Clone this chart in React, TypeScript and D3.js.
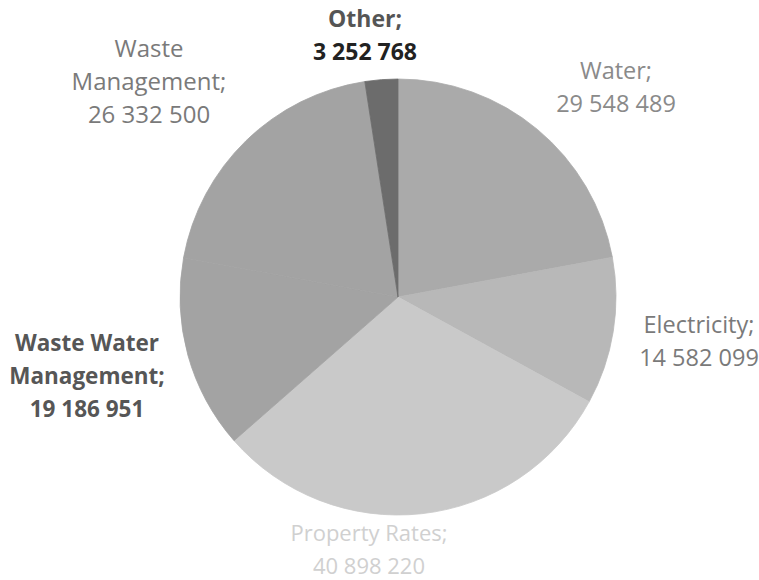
import React from "react";
import * as d3 from "d3";

const categories = ["Water", "Electricity", "Property Rates", "Waste Water Management", "Waste Management", "Other"];
const values = [29548489, 14582099, 40898220, 19186951, 26332500, 3252768];
const sliceColors = ["#aaaaaa", "#b8b8b8", "#c9c9c9", "#a3a3a3", "#a3a3a3", "#6c6c6c"];

// label layout (text center x, first baseline y), line breaks, styles
const labelLines = [
  ["Water;"],
  ["Electricity;"],
  ["Property Rates;"],
  ["Waste Water", "Management;"],
  ["Waste", "Management;"],
  ["Other;"],
];
const labelAnchor = [
  [616, 79],
  [699, 333],
  [369, 541],
  [87, 351],
  [149, 57],
  [365, 27],
];
const labelColor = ["#8a8a8a", "#7a7a7a", "#d0d0d0", "#565656", "#7a7a7a", "#555555"];
const valueColor = ["#8a8a8a", "#7a7a7a", "#d0d0d0", "#565656", "#7a7a7a", "#222222"];
const labelBold = [false, false, false, true, false, true];
const labelSize = [23.5, 23.5, 22, 22.5, 24, 23];

const W = 759;
const H = 580;
const cx = 398;
const cy = 297;
const R = 218;
const lineH = 33;

const fmt = d3.formatLocale({ decimal: ",", thousands: " ", grouping: [3], currency: ["", ""] }).format(",");

export default function App() {
  const pie = d3.pie<number>().sort(null).value((d) => d)(values);
  const arc = d3.arc<d3.PieArcDatum<number>>().innerRadius(0).outerRadius(R);
  return (
    <svg width={W} height={H} style={{ position: "absolute", left: 0, top: 0, background: "#fff" }}
      fontFamily="'Open Sans', sans-serif">
      <g transform={`translate(${cx},${cy})`}>
        {pie.map((p, i) => (
          <path key={categories[i]} d={arc(p) || ""} fill={sliceColors[i]}
            stroke={sliceColors[i]} strokeWidth={0.8} strokeLinejoin="round" />
        ))}
      </g>
      {categories.map((c, i) => {
        const [x, y] = labelAnchor[i];
        const lines = labelLines[i];
        return (
          <text key={c} x={x} textAnchor="middle" fontSize={labelSize[i]}
            fontWeight={labelBold[i] ? 700 : 400}>
            {lines.map((l, j) => (
              <tspan key={j} x={x} y={y + j * lineH} fill={labelColor[i]}>{l}</tspan>
            ))}
            <tspan x={x} y={y + lines.length * lineH} fill={valueColor[i]}>{fmt(values[i])}</tspan>
          </text>
        );
      })}
    </svg>
  );
}
